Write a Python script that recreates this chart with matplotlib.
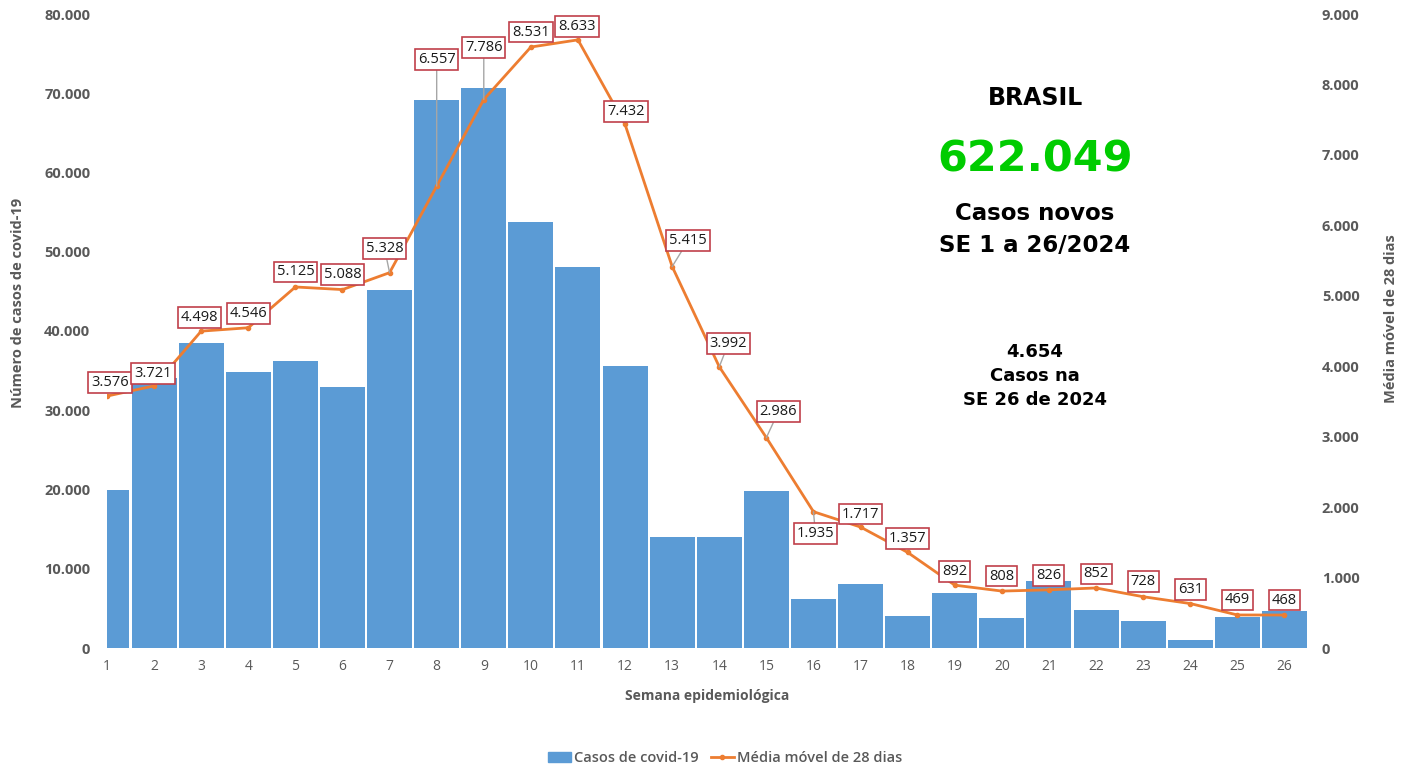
import matplotlib
matplotlib.use("Agg")
import matplotlib.pyplot as plt
from matplotlib.patches import Patch
from matplotlib.lines import Line2D
from matplotlib.ticker import FuncFormatter

# weekly data
semanas = list(range(1, 27))
casos = [20000, 34100, 38500, 34800, 36200, 32900, 45200, 69100, 70700, 53800,
         48100, 35600, 14000, 14000, 19800, 6200, 8100, 4000, 6900, 3800,
         8500, 4800, 3400, 1000, 3900, 4654]
media_movel = [3576, 3721, 4498, 4546, 5125, 5088, 5328, 6557, 7786, 8531,
               8633, 7432, 5415, 3992, 2986, 1935, 1717, 1357, 892, 808,
               826, 852, 728, 631, 469, 468]

# label box offsets in pixels (dx, dy up) and whether a leader line is drawn
offsets = [(3, 14), (-1, 12), (-2, 14), (0, 14), (0, 15), (0, 15), (-5, 24),
           (0, 127), (0, 52), (0, 15), (-1, 13), (1, 13), (16, 26), (9, 23),
           (12, 26), (2, -22), (0, 13), (0, 14), (0, 14), (0, 15), (0, 14),
           (0, 14), (0, 15), (0, 14), (0, 15), (0, 15)]
leaders = {7, 8, 9, 13, 14, 15, 16}

BLUE = "#5B9BD5"
ORANGE = "#ED7D31"
GRAY = "#595959"
BOXRED = "#C0404A"

plt.rcParams["font.family"] = ["Open Sans", "DejaVu Sans"]


def br(v, pos=None):
    return f"{int(v):,}".replace(",", ".")


fig = plt.figure(figsize=(14.06, 7.69), dpi=100)
ax = fig.add_axes([107 / 1406, 1 - 648 / 769, (1308 - 107) / 1406, (648 - 14) / 769])
ax2 = ax.twinx()

ax.bar(semanas, casos, width=0.955, color=BLUE, zorder=1)
ax.set_xlim(1, 26.5)
ax.set_ylim(0, 80000)
ax.set_yticks(range(0, 80001, 10000))
ax.yaxis.set_major_formatter(FuncFormatter(br))
ax.set_xticks(semanas)

ax2.plot(semanas, media_movel, color=ORANGE, lw=2, marker="o", ms=3, zorder=3)
ax2.set_ylim(0, 9000)
ax2.set_yticks(range(0, 9001, 1000))
ax2.yaxis.set_major_formatter(FuncFormatter(br))

for a in (ax, ax2):
    for s in a.spines.values():
        s.set_visible(False)
    a.tick_params(length=0)
ax.tick_params(axis="y", labelsize=10.5, labelcolor=GRAY, pad=12)
ax.tick_params(axis="x", labelsize=10, labelcolor=GRAY, pad=8)
ax2.tick_params(axis="y", labelsize=10.5, labelcolor=GRAY, pad=10)
for t in ax.get_yticklabels() + ax2.get_yticklabels():
    t.set_fontweight("bold")

ax.set_ylabel("Número de casos de covid-19", fontsize=10.5, color=GRAY, fontweight="bold")
ax.yaxis.set_label_coords(-0.068, 0.545)
ax2.set_ylabel("Média móvel de 28 dias", fontsize=10.5, color=GRAY, fontweight="bold")
ax2.yaxis.set_label_coords(1.063, 0.52)
ax.set_xlabel("Semana epidemiológica", fontsize=10, color=GRAY, fontweight="bold")
ax.xaxis.set_label_coords(0.5, -0.065)

for i, (x, v) in enumerate(zip(semanas, media_movel)):
    dx, dy = offsets[i]
    arrow = None
    if x in leaders:
        arrow = dict(arrowstyle="-", color="#A6A6A6", lw=1, shrinkA=0, shrinkB=0)
    ax2.annotate(br(v), xy=(x, v), xytext=(dx, dy), textcoords="offset pixels",
                 ha="center", va="center", fontsize=10.5, color="#1a1a1a",
                 bbox=dict(boxstyle="square,pad=0.2", fc="white", ec=BOXRED, lw=1.2),
                 arrowprops=arrow, zorder=5)

# summary text block
cx = 1035 / 1406
tfam = ["DejaVu Sans"]
fig.text(cx, 1 - 98 / 769, "BRASIL", ha="center", va="center", fontsize=17,
         fontweight="bold", family=tfam)
fig.text(cx, 1 - 160 / 769, "622.049", ha="center", va="center", fontsize=31,
         fontweight="bold", color="#00CC00", family=tfam)
fig.text(cx, 1 - 214 / 769, "Casos novos", ha="center", va="center", fontsize=16.5,
         fontweight="bold", family=tfam)
fig.text(cx, 1 - 246 / 769, "SE 1 a 26/2024", ha="center", va="center", fontsize=16.5,
         fontweight="bold", family=tfam)
fig.text(cx, 1 - 352 / 769, "4.654", ha="center", va="center", fontsize=13,
         fontweight="bold", family=tfam)
fig.text(cx, 1 - 376 / 769, "Casos na", ha="center", va="center", fontsize=13,
         fontweight="bold", family=tfam)
fig.text(cx, 1 - 400 / 769, "SE 26 de 2024", ha="center", va="center", fontsize=13,
         fontweight="bold", family=tfam)

handles = [Patch(color=BLUE, label="Casos de covid-19"),
           Line2D([], [], color=ORANGE, lw=2, marker="o", ms=3, label="Média móvel de 28 dias")]
leg = fig.legend(handles=handles, loc="center", bbox_to_anchor=(725 / 1406, 1 - 758 / 769),
                 ncol=2, frameon=False, fontsize=10.5, handlelength=1.6,
                 handletextpad=0.2, columnspacing=0.8)
for t in leg.get_texts():
    t.set_color(GRAY)
    t.set_fontweight("semibold")

fig.savefig("out.png", dpi=100)
